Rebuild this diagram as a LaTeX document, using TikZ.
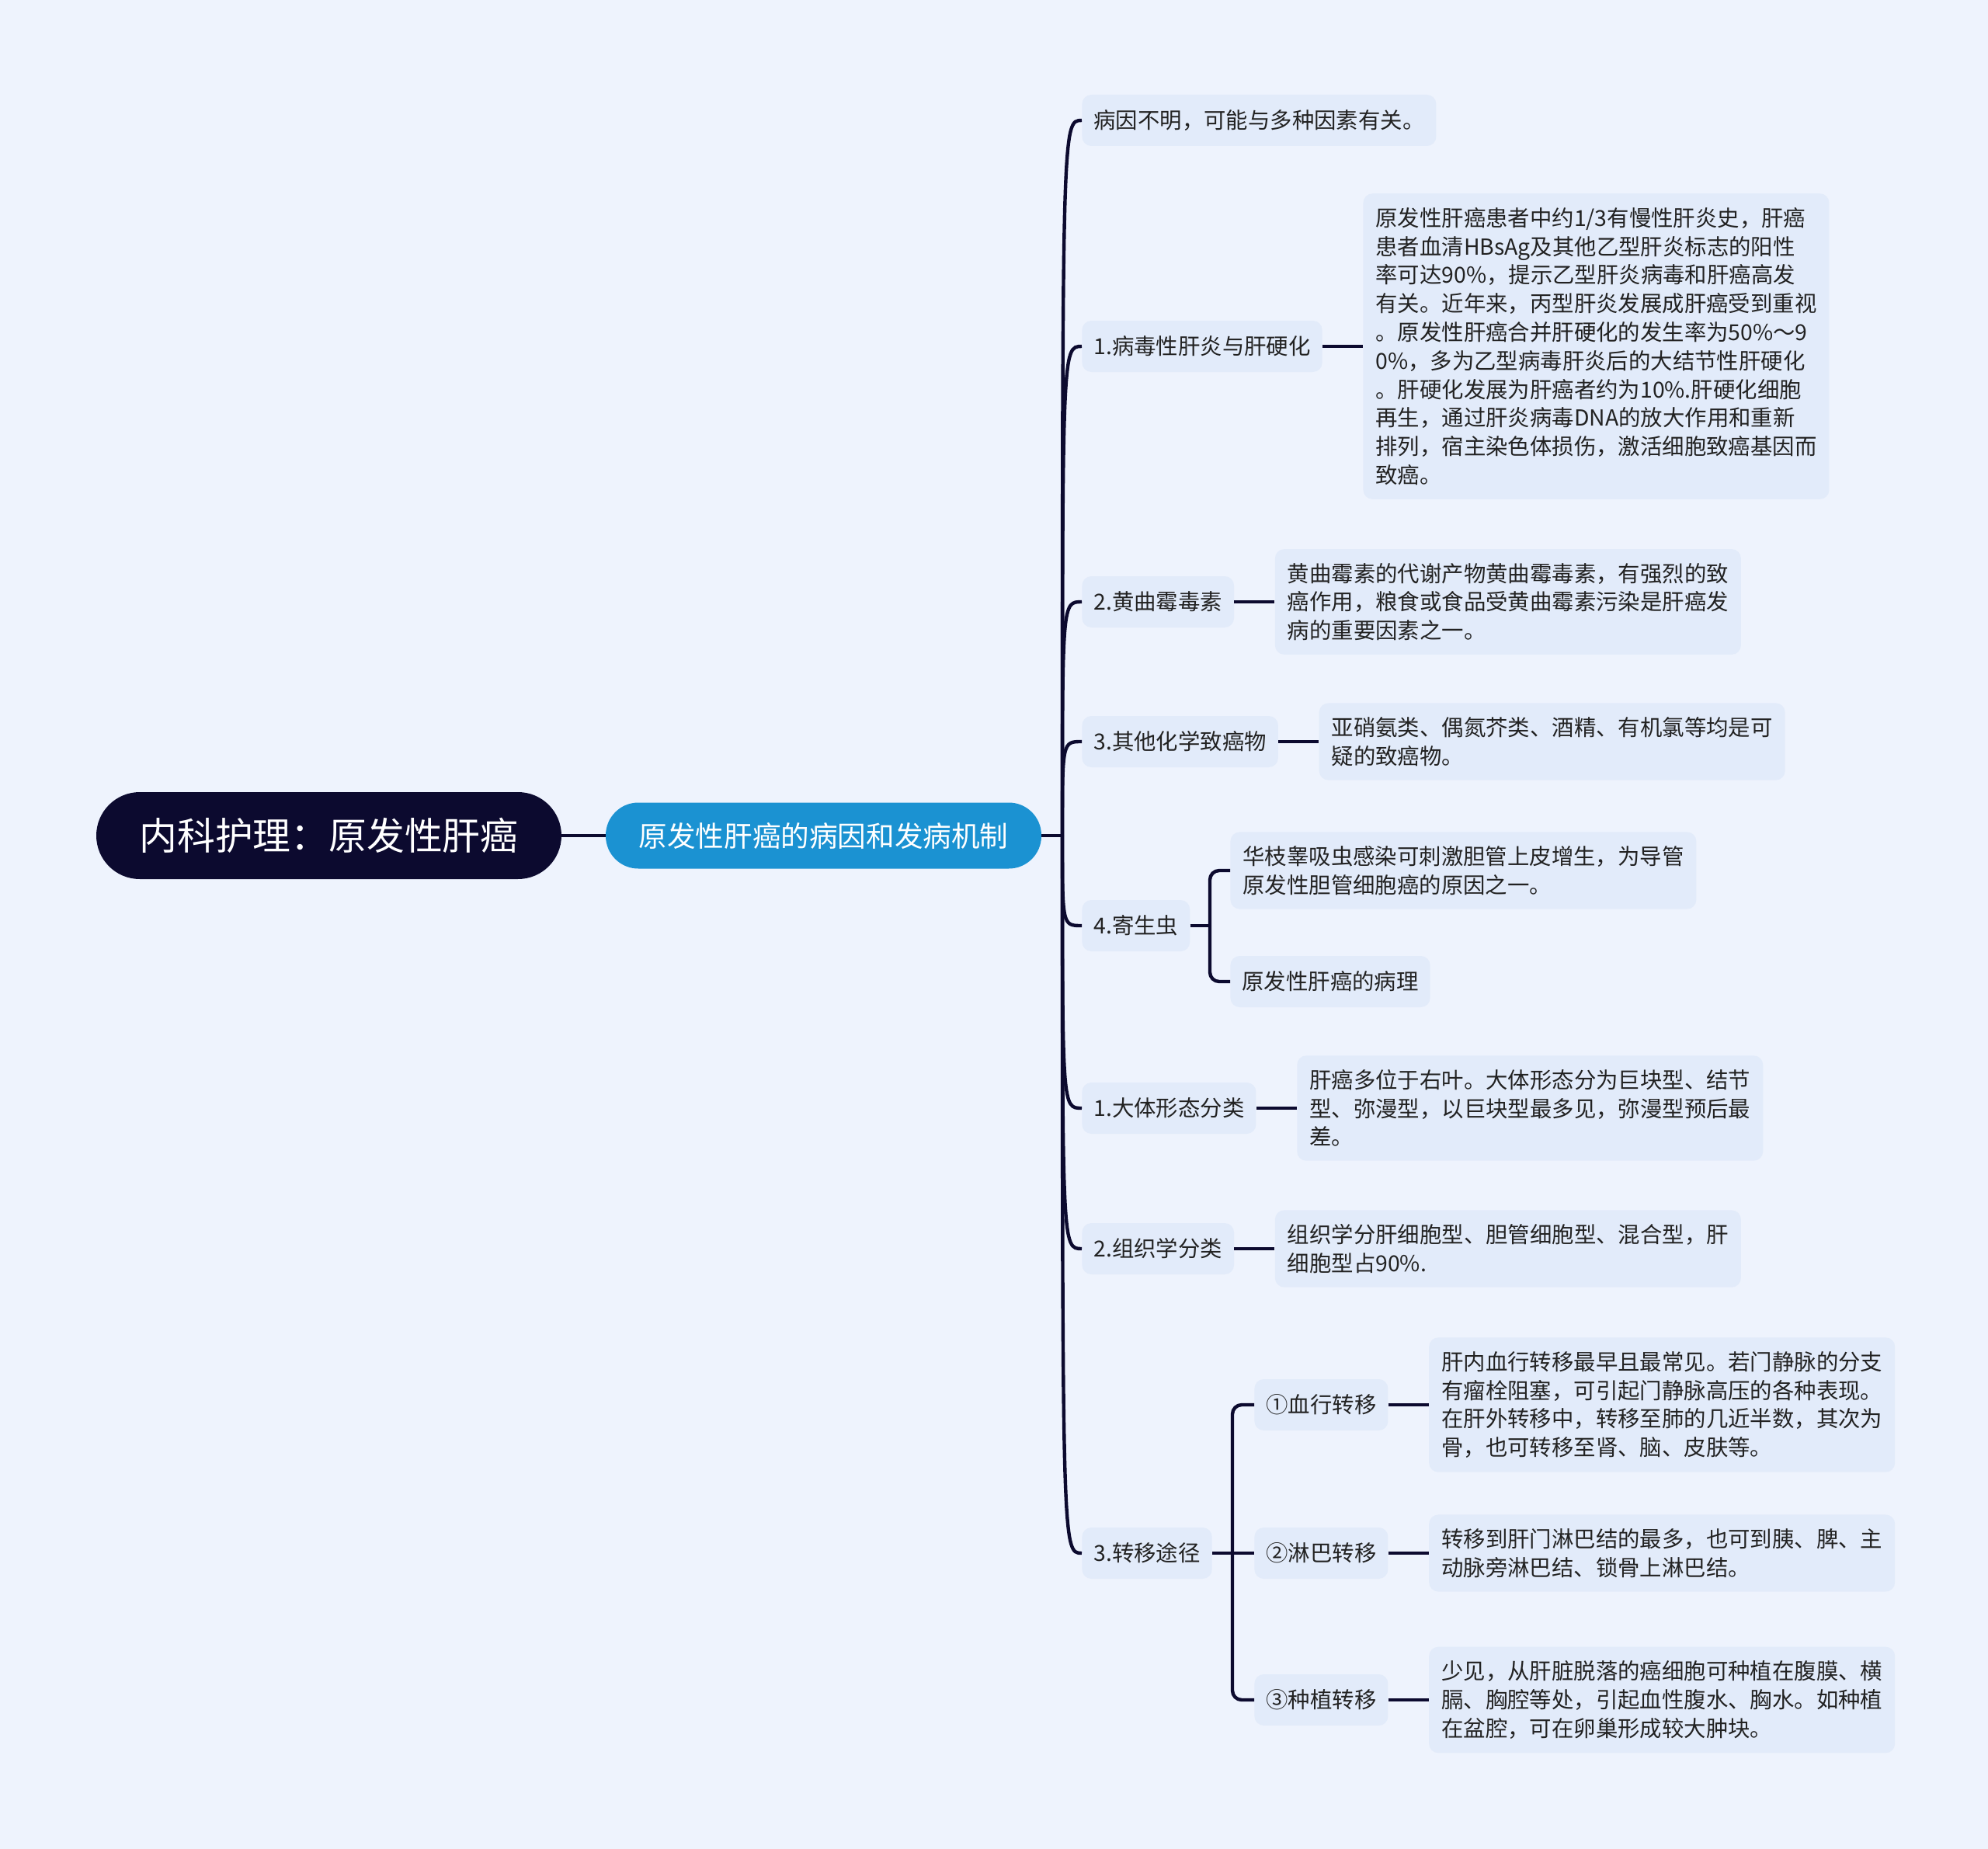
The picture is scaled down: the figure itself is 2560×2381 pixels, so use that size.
\documentclass[tikz,border=0pt]{standalone}
\usepackage{fontspec}
\setmainfont{Noto Sans CJK SC}
\usetikzlibrary{positioning}
\definecolor{canvas}{HTML}{EEF3FD}
\definecolor{boxfill}{HTML}{E2EBFA}
\definecolor{navy}{HTML}{0C0A2F}
\definecolor{topicblue}{HTML}{1B92D2}
\definecolor{ink}{HTML}{222222}
\tikzset{
  rootbox/.style={fill=navy, text=white, rounded corners=28pt, minimum width=299.5pt, minimum height=56pt, font=\fontsize{24.4}{29}\selectfont},
  mainbox/.style={fill=topicblue, text=white, rounded corners=21pt, minimum width=280.5pt, minimum height=42.5pt, font=\fontsize{18.3}{22}\selectfont},
  itembox/.style={fill=boxfill, text=ink, rounded corners=6pt, inner xsep=7.5pt, inner ysep=0pt, minimum height=33pt, font=\fontsize{14.2}{18.4}\selectfont, anchor=west},
  leafbox/.style={fill=boxfill, text=ink, rounded corners=6pt, inner xsep=8pt, inner ysep=9pt, text width=284pt, align=left, font=\fontsize{14.2}{18.4}\selectfont},
  link/.style={draw=navy, line width=2.2pt},
}
\begin{document}
\begin{tikzpicture}[x=0.5pt, y=-0.5pt, node distance=26pt]
  \fill[canvas] (0,0) rectangle (2560,2381);
  \useasboundingbox (0,0) rectangle (2560,2381);

  \node[rootbox] (root) at (423.5,1076) {内科护理：原发性肝癌};
  \node[mainbox] (main) at (1060.5,1076) {原发性肝癌的病因和发病机制};

  \node[itembox] (c0) at (1393,155) {病因不明，可能与多种因素有关。};
  \node[itembox] (c1) at (1393,446) {1.病毒性肝炎与肝硬化};
  \node[itembox] (c2) at (1393,775) {2.黄曲霉毒素};
  \node[itembox] (c3) at (1393,955) {3.其他化学致癌物};
  \node[itembox] (c4) at (1393,1192) {4.寄生虫};
  \node[itembox] (c5) at (1393,1427) {1.大体形态分类};
  \node[itembox] (c6) at (1393,1608) {2.组织学分类};
  \node[itembox] (c7) at (1393,2000) {3.转移途径};

  \node[leafbox, right=of c1] (l1) {原发性肝癌患者中约1/3有慢性肝炎史，肝癌\\患者血清HBsAg及其他乙型肝炎标志的阳性\\率可达90\%，提示乙型肝炎病毒和肝癌高发\\有关。近年来，丙型肝炎发展成肝癌受到重视\\。原发性肝癌合并肝硬化的发生率为50\%～9\\0\%，多为乙型病毒肝炎后的大结节性肝硬化\\。肝硬化发展为肝癌者约为10\%.肝硬化细胞\\再生，通过肝炎病毒DNA的放大作用和重新\\排列，宿主染色体损伤，激活细胞致癌基因而\\致癌。};
  \node[leafbox, right=of c2] (l2) {黄曲霉素的代谢产物黄曲霉毒素，有强烈的致\\癌作用，粮食或食品受黄曲霉素污染是肝癌发\\病的重要因素之一。};
  \node[leafbox, right=of c3] (l3) {亚硝氨类、偶氮芥类、酒精、有机氯等均是可\\疑的致癌物。};
  \node[leafbox, anchor=west] (s41) at (1584,1121) {华枝睾吸虫感染可刺激胆管上皮增生，为导管\\原发性胆管细胞癌的原因之一。};
  \node[itembox] (s42) at (1584,1264) {原发性肝癌的病理};
  \node[leafbox, right=of c5] (l5) {肝癌多位于右叶。大体形态分为巨块型、结节\\型、弥漫型，以巨块型最多见，弥漫型预后最\\差。};
  \node[leafbox, right=of c6] (l6) {组织学分肝细胞型、胆管细胞型、混合型，肝\\细胞型占90\%.};

  \node[itembox] (s71) at (1615,1809) {①血行转移};
  \node[itembox] (s72) at (1615,2000) {②淋巴转移};
  \node[itembox] (s73) at (1615,2189) {③种植转移};
  \node[leafbox, right=of s71] (l71) {肝内血行转移最早且最常见。若门静脉的分支\\有瘤栓阻塞，可引起门静脉高压的各种表现。\\在肝外转移中，转移至肺的几近半数，其次为\\骨，也可转移至肾、脑、皮肤等。};
  \node[leafbox, right=of s72] (l72) {转移到肝门淋巴结的最多，也可到胰、脾、主\\动脉旁淋巴结、锁骨上淋巴结。};
  \node[leafbox, right=of s73] (l73) {少见，从肝脏脱落的癌细胞可种植在腹膜、横\\膈、胸腔等处，引起血性腹水、胸水。如种植\\在盆腔，可在卵巢形成较大肿块。};

  \coordinate (sp) at (1368,1076);
  \draw[link] (root) -- (main);
  \draw[link] (main.east) -- (sp);
  \foreach \n in {c0,c1,c2,c3,c4,c5,c6,c7}
    \draw[link] (sp) .. controls (sp |- \n.west) .. (\n.west);

  \draw[link] (c1) -- (l1);
  \draw[link] (c2) -- (l2);
  \draw[link] (c3) -- (l3);
  \draw[link] (c5) -- (l5);
  \draw[link] (c6) -- (l6);

  \coordinate (f4) at (1558,1192);
  \draw[link] (c4.east) -- (f4);
  \draw[link, rounded corners=6pt] (f4) |- (s41.west);
  \draw[link, rounded corners=6pt] (f4) |- (s42.west);

  \coordinate (f7) at (1587,2000);
  \draw[link] (c7.east) -- (f7);
  \draw[link, rounded corners=6pt] (f7) |- (s71.west);
  \draw[link] (f7) -- (s72.west);
  \draw[link, rounded corners=6pt] (f7) |- (s73.west);
  \draw[link] (s71) -- (l71);
  \draw[link] (s72) -- (l72);
  \draw[link] (s73) -- (l73);
\end{tikzpicture}
\end{document}
